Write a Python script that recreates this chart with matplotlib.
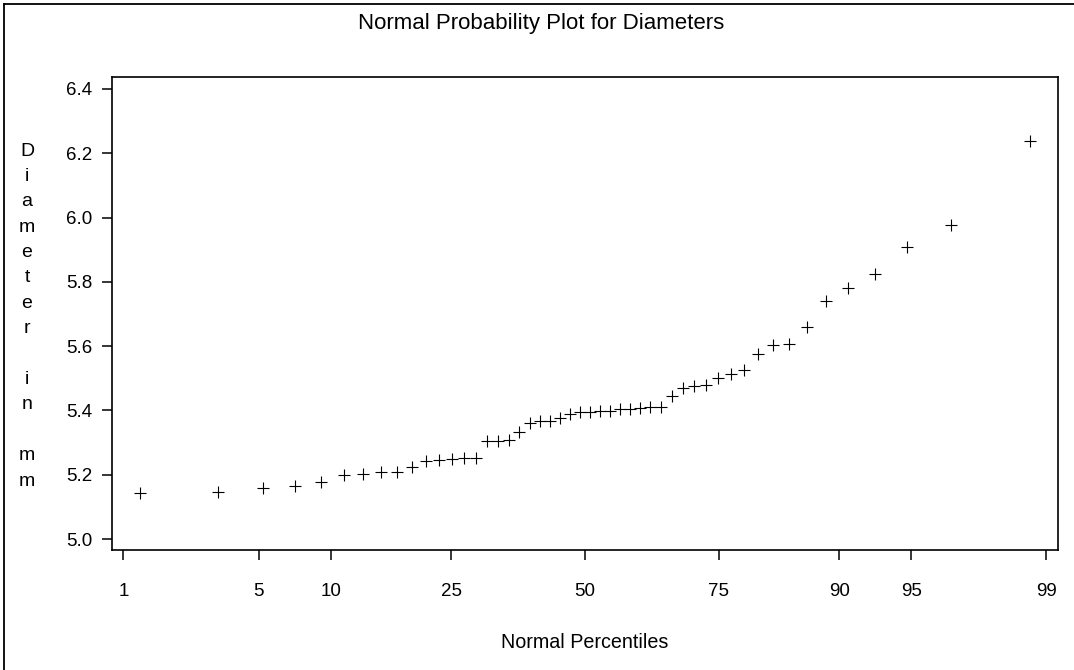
import numpy as np
import matplotlib
matplotlib.use("Agg")
from matplotlib import pyplot as plt
from matplotlib.lines import Line2D
from statistics import NormalDist

plt.rcParams['font.family'] = ['Liberation Sans', 'DejaVu Sans']

# diameters (mm), sorted
diameters = [5.143, 5.146, 5.160, 5.164, 5.177, 5.200, 5.202, 5.208, 5.209, 5.223,
             5.244, 5.247, 5.248, 5.251, 5.252, 5.304, 5.304, 5.309, 5.332, 5.360,
             5.366, 5.368, 5.376, 5.388, 5.394, 5.394, 5.399, 5.399, 5.404, 5.404,
             5.409, 5.410, 5.410, 5.445, 5.470, 5.475, 5.480, 5.501, 5.512, 5.525,
             5.576, 5.603, 5.607, 5.661, 5.739, 5.781, 5.823, 5.907, 5.977, 6.239]
pct_ticks = [1, 5, 10, 25, 50, 75, 90, 95, 99]
y_ticks = [5.0, 5.2, 5.4, 5.6, 5.8, 6.0, 6.2, 6.4]

nd = NormalDist()
_ppf = np.vectorize(lambda p: nd.inv_cdf(min(max(p / 100.0, 1e-9), 1 - 1e-9)),
                    otypes=[float])
_cdf = np.vectorize(lambda z: 100.0 * nd.cdf(z), otypes=[float])

def fwd(p):
    return _ppf(np.asarray(p, dtype=float))

def inv(z):
    return _cdf(np.asarray(z, dtype=float))

# Blom plotting positions from the ranks
n = len(diameters)
ranks = np.arange(1, n + 1)
percentiles = 100.0 * (ranks - 0.375) / (n + 0.25)

W, H = 1074, 670
fig = plt.figure(figsize=(W / 100, H / 100), dpi=100)
ax = fig.add_axes([111.7 / W, 1 - 550 / H, (1058 - 111.7) / W, (550 - 76.7) / H])

ax.set_xscale('function', functions=(fwd, inv))
ax.plot(percentiles, diameters, linestyle='none', marker='+', color='black',
        markersize=8.6, markeredgewidth=0.8)

ax.set_xlim(float(inv(-2.385)), float(inv(2.385)))
ax.set_ylim(4.966, 6.438)
ax.set_xticks(pct_ticks)
ax.set_xticklabels([str(t) for t in pct_ticks])
ax.xaxis.set_minor_locator(matplotlib.ticker.NullLocator())
ax.set_yticks(y_ticks)
ax.set_yticklabels(["%.1f" % v for v in y_ticks])

for s in ax.spines.values():
    s.set_linewidth(1.2)
ax.tick_params(direction='out', length=7.5, width=1.1, labelsize=13.5)
ax.tick_params(axis='y', pad=6.5)
ax.tick_params(axis='x', pad=16)

fig.text(541 / W, 1 - 24 / H, "Normal Probability Plot for Diameters",
         ha='center', va='center', fontsize=16)
fig.text(584.9 / W, 1 - 642 / H, "Normal Percentiles",
         ha='center', va='center', fontsize=14.2)

# vertical, one letter per line
label = "Diameter in mm"
step = (479 - 149) / (len(label) - 1)
for k, ch in enumerate(label):
    if ch != ' ':
        fig.text(27 / W, 1 - (149 + k * step) / H, ch, ha='center',
                 va='center_baseline', fontsize=14)

# outer frame (left and top edges show)
fig.add_artist(Line2D([4 / W, 4 / W], [0, 1 - 4 / H], transform=fig.transFigure,
                      color='black', linewidth=1.3))
fig.add_artist(Line2D([4 / W, 1], [1 - 4 / H, 1 - 4 / H], transform=fig.transFigure,
                      color='black', linewidth=1.3))

fig.savefig("out.png", dpi=100)
